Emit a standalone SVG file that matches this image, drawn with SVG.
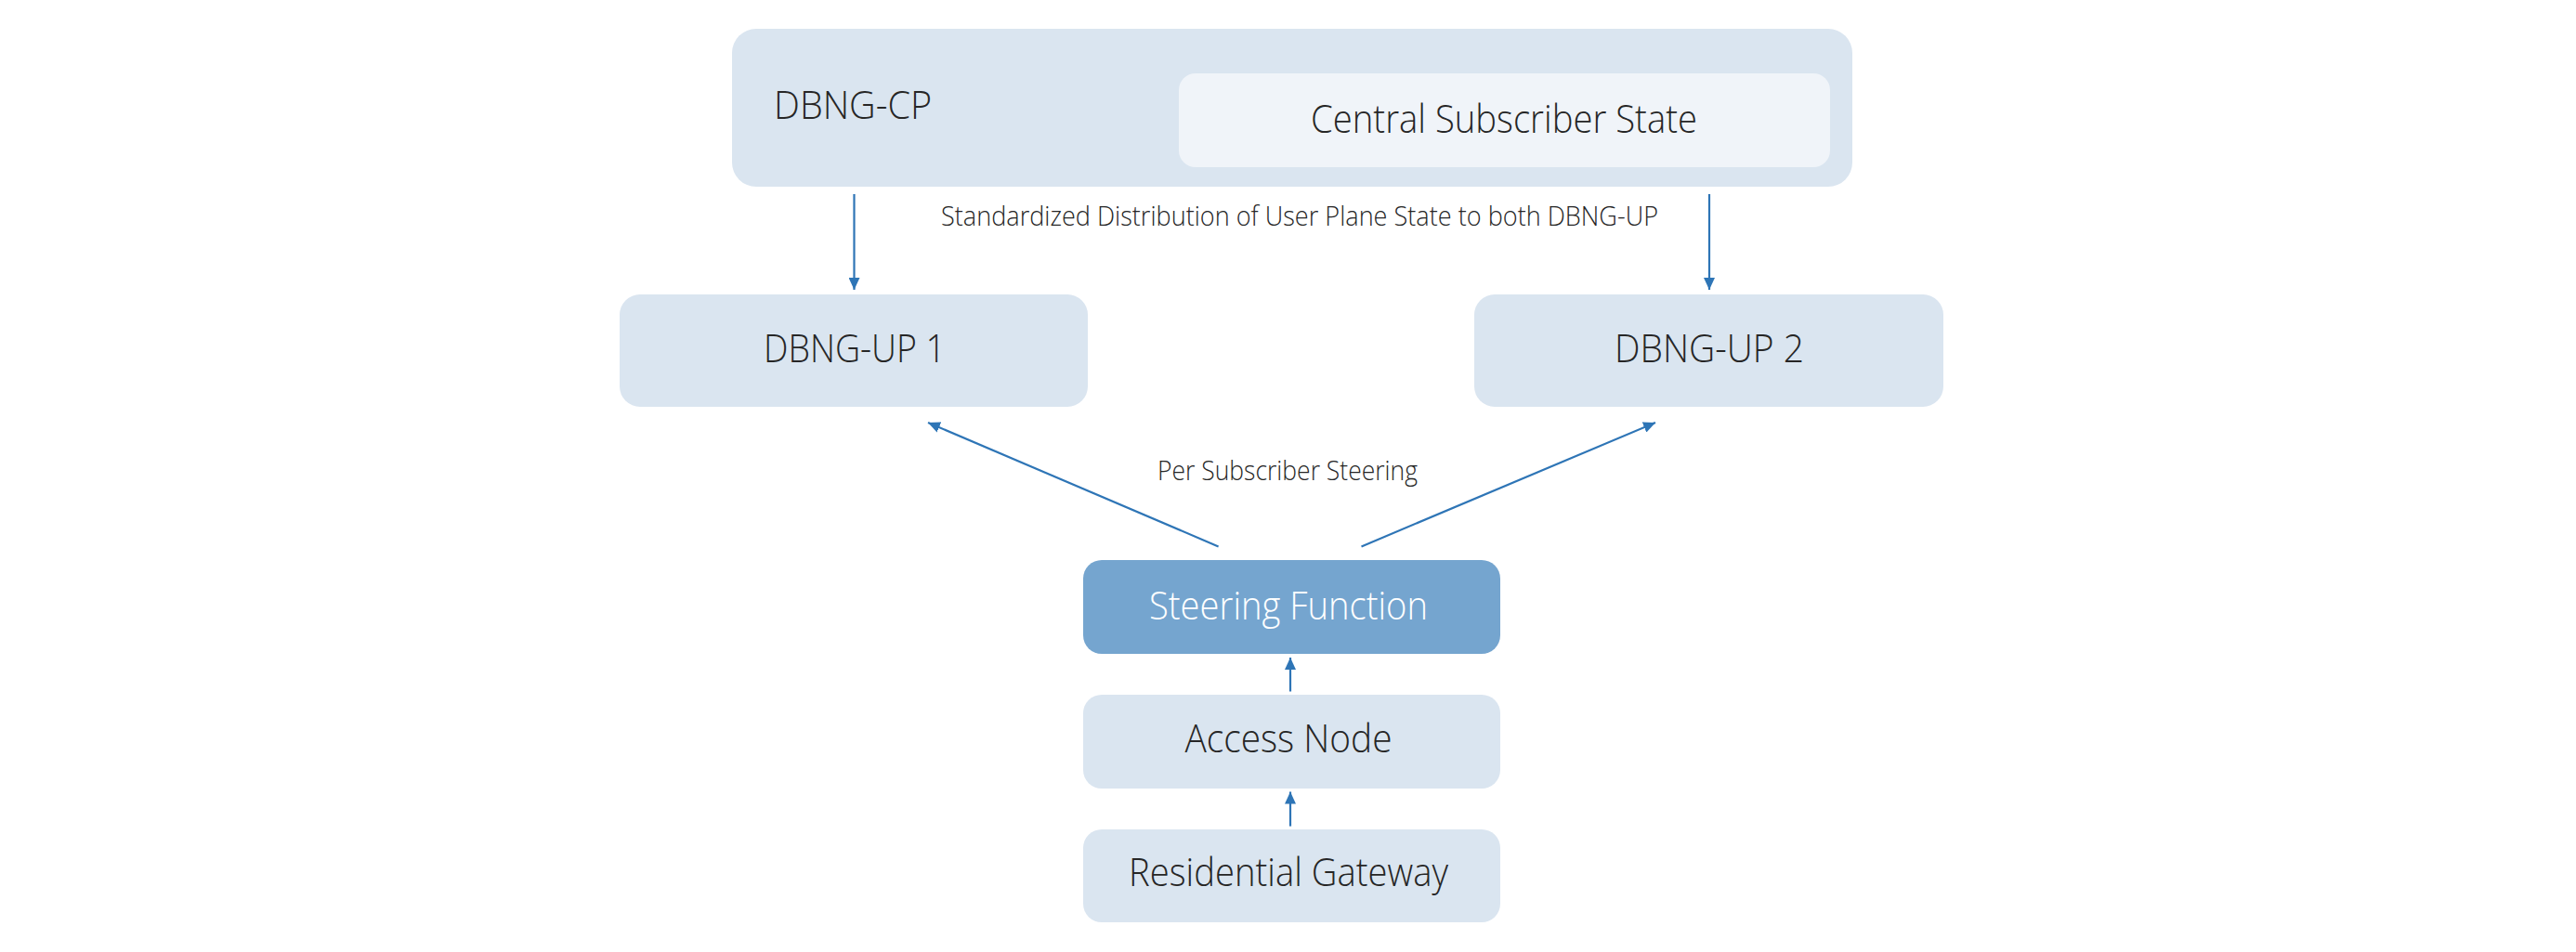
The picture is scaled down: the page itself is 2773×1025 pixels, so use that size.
<svg xmlns="http://www.w3.org/2000/svg" width="2773" height="1025" viewBox="0 0 2773 1025">
  <style>
    .box { fill: #DAE5F0; }
    .inner { fill: #F0F4F9; }
    .sf { fill: #75A5CF; }
    .t { font-family: "Open Sans", "Noto Sans", "Liberation Sans", sans-serif; font-weight: 300; fill: #262626; font-size: 42px; }
    .tw { fill: #FFFFFF; }
    .lbl { font-family: "Open Sans", "Noto Sans", "Liberation Sans", sans-serif; font-weight: 300; fill: #262626; font-size: 30px; }
    .conn { stroke: #2E75B6; stroke-width: 2.2; fill: none; }
  </style>
  <defs>
    <marker id="arr" markerUnits="userSpaceOnUse" markerWidth="14" markerHeight="12" refX="13" refY="6" orient="auto">
      <path d="M0,0 L13,6 L0,12 z" fill="#2E75B6"/>
    </marker>
  </defs>
  <rect width="2773" height="1025" fill="#FFFFFF"/>

  <g id="dbng-cp">
    <rect class="box" x="788" y="31" width="1206" height="170" rx="26" ry="26"/>
    <text class="t" x="833" y="128" textLength="170" lengthAdjust="spacingAndGlyphs">DBNG-CP</text>
  </g>
  <g id="central-subscriber-state">
    <rect class="inner" x="1269" y="79" width="701" height="101" rx="18" ry="18"/>
    <text class="t" x="1619" y="143" text-anchor="middle" textLength="416" lengthAdjust="spacingAndGlyphs">Central Subscriber State</text>
  </g>
  <g id="dbng-up1">
    <rect class="box" x="667" y="317" width="504" height="121" rx="22" ry="22"/>
    <text class="t" x="920" y="390" text-anchor="middle" textLength="196" lengthAdjust="spacingAndGlyphs">DBNG-UP 1</text>
  </g>
  <g id="dbng-up2">
    <rect class="box" x="1587" y="317" width="505" height="121" rx="22" ry="22"/>
    <text class="t" x="1840" y="390" text-anchor="middle" textLength="204" lengthAdjust="spacingAndGlyphs">DBNG-UP 2</text>
  </g>
  <g id="steering-function">
    <rect class="sf" x="1166" y="603" width="449" height="101" rx="20" ry="20"/>
    <text class="t tw" x="1387" y="667" text-anchor="middle" textLength="300" lengthAdjust="spacingAndGlyphs">Steering Function</text>
  </g>
  <g id="access-node">
    <rect class="box" x="1166" y="748" width="449" height="101" rx="20" ry="20"/>
    <text class="t" x="1387" y="810" text-anchor="middle" textLength="223" lengthAdjust="spacingAndGlyphs">Access Node</text>
  </g>
  <g id="residential-gateway">
    <rect class="box" x="1166" y="893" width="449" height="100" rx="20" ry="20"/>
    <text class="t" x="1387" y="954" text-anchor="middle" textLength="344" lengthAdjust="spacingAndGlyphs">Residential Gateway</text>
  </g>

  <g id="connectors">
    <line class="conn" x1="919.5" y1="209" x2="919.5" y2="312" marker-end="url(#arr)"/>
    <line class="conn" x1="1840" y1="209" x2="1840" y2="312" marker-end="url(#arr)"/>
    <line class="conn" x1="1311.6" y1="588.4" x2="999" y2="455" marker-end="url(#arr)"/>
    <line class="conn" x1="1465.5" y1="588.4" x2="1782" y2="455" marker-end="url(#arr)"/>
    <line class="conn" x1="1389" y1="744.5" x2="1389" y2="708" marker-end="url(#arr)"/>
    <line class="conn" x1="1389" y1="889.6" x2="1389" y2="852.5" marker-end="url(#arr)"/>
    <text class="lbl" x="1399" y="243" text-anchor="middle" textLength="772" lengthAdjust="spacingAndGlyphs">Standardized Distribution of User Plane State to both DBNG-UP</text>
    <text class="lbl" x="1386" y="517" text-anchor="middle" textLength="280" lengthAdjust="spacingAndGlyphs">Per Subscriber Steering</text>
  </g>
</svg>
